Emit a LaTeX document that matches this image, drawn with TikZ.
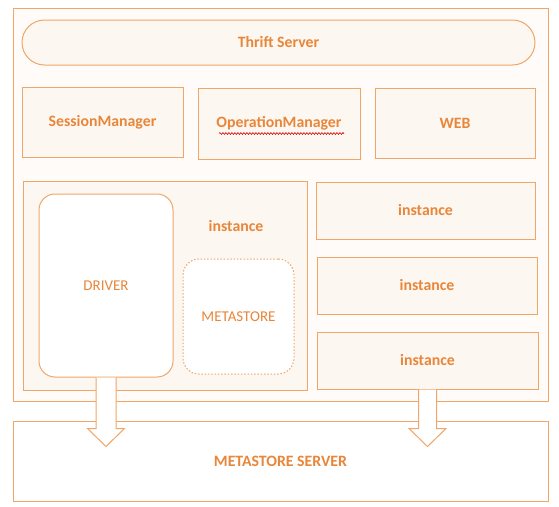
\documentclass[tikz,border=0pt]{standalone}
\usepackage{fontspec}
\setmainfont{Carlito}
\usetikzlibrary{calc,decorations.pathmorphing}
\definecolor{ln}{RGB}{240,166,104}
\definecolor{tx}{RGB}{232,134,58}
\definecolor{bx}{RGB}{253,247,242}
\definecolor{ob}{RGB}{254,251,248}
\tikzset{
  box/.style={draw=ln, line width=1pt, fill=bx, inner sep=0pt, text=tx,
    font=\fontsize{15.8}{18}\selectfont\bfseries},
  softbox/.style={draw=ln, line width=1pt, fill=white, inner sep=0pt, text=tx,
    font=\fontsize{15}{18}\selectfont, rounded corners=16pt},
  lbl/.style={text=tx, font=\fontsize{15.8}{18}\selectfont\bfseries, inner sep=0pt},
  fatarrow/.style={draw=ln, line width=1pt, fill=white, line join=miter},
  spell/.style={draw=red!80!black, line width=0.6pt,
    decorate, decoration={snake, amplitude=0.9pt, segment length=3pt}}
}
\begin{document}
\begin{tikzpicture}[x=1pt,y=-1pt]
\useasboundingbox (0,0) rectangle (559,506);
% outer frame
\node[box, fill=ob, minimum width=535pt, minimum height=393pt] (outer) at (280.5,204.5) {};
% thrift
\node[box, rounded corners=22.5pt, minimum width=513pt, minimum height=45pt] (thrift) at (278.5,42.5) {Thrift Server};
% managers
\node[box, minimum width=161pt, minimum height=70pt] (sm) at (102.5,122) {SessionManager};
\node[box, minimum width=162pt, minimum height=71pt] (om) at (279,123.5) {OperationManager};
\node[box, minimum width=160pt, minimum height=70pt] (web) at (455,123) {WEB};
\draw[spell] ($(om.center)+(-60,10)$) -- ($(om.center)+(65,10)$);
% big instance
\node[box, minimum width=284pt, minimum height=209pt] (inst0) at (165,285.5) {};
\node[lbl] (inst0lbl) at (236,226) {instance};
\node[softbox, minimum width=134pt, minimum height=183pt] (driver) at (106,285.5) {DRIVER};
\node[softbox, dash pattern=on 1.5pt off 1.8pt, minimum width=111pt, minimum height=115pt] (meta) at (238.5,316.5) {METASTORE};
% other instances
\node[box, minimum width=219pt, minimum height=57pt] (inst1) at (425.5,210.5) {instance};
\node[box, minimum width=220pt, minimum height=57pt] (inst2) at (427,285.5) {instance};
\node[box, minimum width=221pt, minimum height=57pt] (inst3) at (427.5,360.5) {instance};
% metastore server
\node[box, fill=white, minimum width=535pt, minimum height=80pt] (ms) at (280.5,461) {METASTORE SERVER};
% arrows
\coordinate (tipL) at ($(driver.south |- ms.north)+(0,26)$);
\coordinate (tipR) at ($(inst3.south |- ms.north)+(0,26)$);
\draw[fatarrow] ($(driver.south)+(-10,0)$) -- ($(driver.south |- tipL)+(-10,-18)$) -- ($(tipL)+(-18.5,-18)$) -- (tipL) -- ($(tipL)+(18.5,-18)$) -- ($(driver.south |- tipL)+(10,-18)$) -- ($(driver.south)+(10,0)$);
\draw[fatarrow] ($(inst3.south)+(-9,0)$) -- ($(inst3.south |- tipR)+(-9,-18)$) -- ($(tipR)+(-18.5,-18)$) -- (tipR) -- ($(tipR)+(18.5,-18)$) -- ($(inst3.south |- tipR)+(9,-18)$) -- ($(inst3.south)+(9,0)$);
\end{tikzpicture}
\end{document}
